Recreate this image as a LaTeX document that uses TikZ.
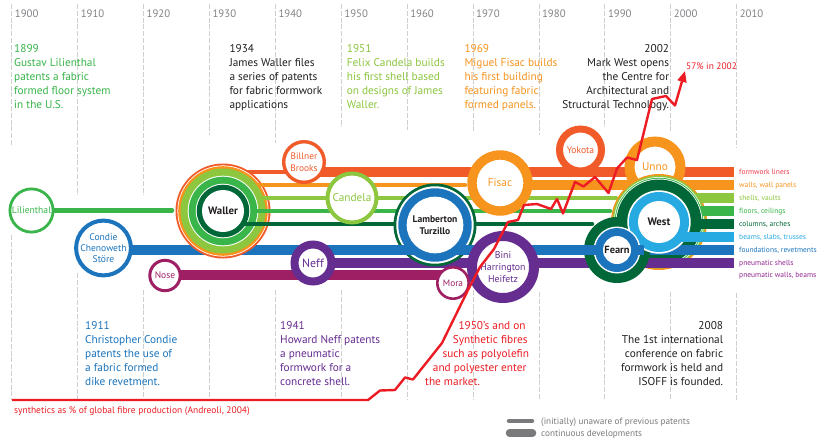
\documentclass[tikz,border=0pt]{standalone}
\usepackage{fontspec}
\setmainfont{PT Sans}
\usetikzlibrary{arrows.meta}
\definecolor{cRO}{HTML}{F15A29}
\definecolor{cOr}{HTML}{F7941D}
\definecolor{cLG}{HTML}{8DC63F}
\definecolor{cGr}{HTML}{39B54A}
\definecolor{cDG}{HTML}{006838}
\definecolor{cLB}{HTML}{27AAE1}
\definecolor{cBl}{HTML}{1C75BC}
\definecolor{cPu}{HTML}{662D91}
\definecolor{cMa}{HTML}{9E1F63}
\definecolor{cRd}{HTML}{ED1C24}
\definecolor{cTx}{HTML}{231F20}
\definecolor{cGrid}{HTML}{CFCFCF}
\definecolor{cYear}{HTML}{808285}
\definecolor{cLeg}{HTML}{7A7A7C}
\definecolor{cPk}{HTML}{EE3D4A}
\definecolor{cPm}{HTML}{92278F}
\newcommand\myfs[2]{\fontsize{#1}{#2}\selectfont}
\newcommand\para[6]{%
  \foreach \pln [count=\pli from 0] in {#6}
    \node[inner sep=0pt,anchor=#4,text=#5,font=\myfs{11.3}{14}] (#1\pli) at (#2,#3+14*\pli) {\pln};}
\begin{document}
\begin{tikzpicture}[x=1pt,y=-1pt,
  thinbar/.style={line width=4.5pt,line cap=round},
  thickbar/.style={line width=9.4pt,line cap=butt},
  gridline/.style={cGrid,line width=0.7pt,dash pattern=on 5pt off 1.8pt},
  yearlbl/.style={anchor=base west,inner sep=0pt,text=cYear,font=\myfs{10.8}{12}},
  ring/.style={circle,fill=white,inner sep=0pt,align=center},
  ctext/.style={inner sep=0pt,align=center},
  catlbl/.style={anchor=base west,inner sep=0pt,font=\myfs{7.5}{9}},
  leglbl/.style={anchor=base west,inner sep=0pt,text=cLeg,font=\myfs{9.2}{10}},
]
\useasboundingbox (0,0) rectangle (819,442);
\fill[white] (0,0) rectangle (819,442);

% ---------- grid and years
\foreach \yr/\ta/\tb in {1900/145/235,1910/195/273,1920/195/290,1930/135/290,1940/143/290,1950/127/290,1960/130/290,1970/133/290,1980/135/292,1990/127/292,2000/133/292,2010/147/293}{
  \pgfmathsetmacro\gx{11.7+(\yr-1900)*6.59}
  \draw[gridline] (\gx,4) -- (\gx,\ta) (\gx,\tb) -- (\gx,400);
  \node[yearlbl] (yr\yr) at (\gx+3,17.2) {\yr};
}

% ---------- texts
\para{ta}{14}{52}{base west}{cGr}{1899,Gustav Lilienthal,patents a fabric,formed floor system,in the U.S.}
\para{tb}{229.3}{52}{base west}{cTx}{1934,James Waller files,a series of patents,for fabric formwork,applications}
\para{tc}{346.7}{52}{base west}{cLG}{1951,Felix Candela builds,his first shell based,on designs of James,Waller.}
\para{td}{464.3}{52}{base west}{cOr}{1969,Miguel Fisac builds,his first building,featuring fabric,formed panels.}
\para{te}{669.3}{52}{base east}{cTx}{2002,Mark West opens,the Centre for,Architectural and,Structural Technology.}
\para{tf}{85}{329}{base west}{cBl}{1911,Christopher Condie,patents the use of,a fabric formed,dike revetment.}
\para{tg}{280}{329}{base west}{cPu}{1941,Howard Neff patents,a pneumatic,formwork for a,concrete shell.}
\para{th}{723.3}{329}{base east}{cTx}{2008,The 1st international,conference on fabric,formwork is held and,ISOFF is founded.}
\foreach \plx/\pln [count=\pli from 0] in {458.3/1950’s and on,452.7/Synthetic fibres,442.3/such as polyolefin,432.7/and polyester enter,425/the market.}
  \node[inner sep=0pt,anchor=base west,text=cRd,font=\myfs{11.3}{14}] (ti\pli) at (\plx,329+14*\pli) {\pln};

% ---------- centres and row ends
\coordinate (pLil) at (31.5,210.5);
\coordinate (pCon) at (103.5,248);
\coordinate (pNos) at (165,275.5);
\coordinate (pW) at (223,211);
\coordinate (pBil) at (304,162);
\coordinate (pCan) at (352,198);
\coordinate (pNef) at (313,263);
\coordinate (pL) at (435,225);
\coordinate (pFis) at (500,183);
\coordinate (pBin) at (503,267);
\coordinate (pMor) at (453,283);
\coordinate (pYok) at (580.5,150);
\coordinate (pUnn) at (655,167);
\coordinate (pWe) at (659,222);
\coordinate (pF) at (617,250);
\coordinate (eRO) at (734,172);
\coordinate (eOr) at (734,185);
\coordinate (eLG) at (734,198);
\coordinate (eGr) at (734,211);
\coordinate (eDG) at (734,224);
\coordinate (eLB) at (734,237);
\coordinate (eBl) at (734,250);
\coordinate (ePu) at (734,263);
\coordinate (eMa) at (734,275);
\coordinate (lilEnd) at (172,210.5);
\coordinate (orEnd) at (465,185);
\coordinate (lgEnd) at (616,198);
\coordinate (grEnd) at (610,211);
\coordinate (dgEnd) at (592,224);

% ---------- bars behind everything
\draw[thinbar,cGr] (pLil) -- (lilEnd);
\draw[thickbar,cBl] (pCon |- eBl) -- (eBl);
\draw[thickbar,cPu] (pNef |- ePu) -- (ePu);
\draw[thickbar,cMa] (pNos |- eMa) -- (pMor |- eMa);
\draw[thinbar,cRO] (pW |- eRO) -- (pBil |- eRO);
\draw[thickbar,cRO] (pBil |- eRO) -- (eRO);
\draw[thickbar,cOr] (pFis |- eOr) -- (eOr);

% ---------- Waller
\fill[cRO] (pW) circle[radius=47.5pt];
\fill[white] (pW) circle[radius=45.6pt];
\fill[cOr] (pW) circle[radius=44.8pt];
\draw[thinbar,cOr] (pW |- eOr) -- (orEnd);
\fill[cLG] (pW) circle[radius=42.5pt];
\draw[thinbar,cLG] (pW |- eLG) -- (lgEnd);
\fill[white] (pW) circle[radius=35.3pt];
\fill[cGr] (pW) circle[radius=34.3pt];
\draw[thinbar,cGr] (pW |- eGr) -- (grEnd);
\fill[white] (pW) circle[radius=27.3pt];
\fill[cDG] (pW) circle[radius=26.3pt];
\draw[thinbar,cDG] (pW |- eDG) -- (dgEnd);
\fill[white] (pW) circle[radius=21pt];
\node[ctext,font=\bfseries\myfs{10.8}{12},text=cTx] (waller) at (pW) {Waller};

% ---------- simple rings
\node[ring,draw=cGr,line width=2.8pt,minimum size=43.2pt,text=cGr,font=\myfs{9.6}{11}] (lil) at (pLil) {Lilienthal};
\node[ring,draw=cBl,line width=4pt,minimum size=53.4pt,text=cBl,font=\myfs{9.6}{11.3}] (condie) at (pCon) {Condie\\Chenoweth\\Störe};
\node[ring,draw=cMa,line width=3pt,minimum size=30.4pt,text=cMa,font=\myfs{9.5}{11}] (nose) at (pNos) {Nose};
\node[ring,draw=cRO,line width=3.4pt,minimum size=40.6pt,text=cRO,font=\myfs{9.4}{12.3}] (billner) at (pBil) {Billner\\Brooks};
\node[ring,draw=cLG,line width=4pt,minimum size=49pt,text=cLG,font=\myfs{11.3}{12}] (candela) at (pCan) {Candela};
\node[ring,draw=cPu,line width=8pt,minimum size=37pt,text=cPu,font=\myfs{11.9}{12}] (neff) at (pNef) {Neff};

% ---------- Lamberton Turzillo
\fill[cDG] (pL) circle[radius=41.5pt];
\fill[white] (pL) circle[radius=38.7pt];
\draw[thickbar,cBl] (pL |- eBl) ++(-42,0) -- ++(84,0);
\fill[cBl] (pL) circle[radius=36.7pt];
\fill[white] (pL) circle[radius=28.3pt];
\node[ctext,font=\bfseries\myfs{9.6}{11.7},text=cTx] (lamberton) at (pL) {Lamberton\\Turzillo};

\node[ring,draw=cOr,line width=9.4pt,minimum size=56pt,text=cOr,font=\myfs{11.2}{12}] (fisac) at (pFis) {Fisac};
\node[ring,draw=cPu,line width=10pt,minimum size=62pt,text=cPu,font=\myfs{9.8}{11.7}] (bini) at (pBin) {Bini\\Harrington\\Heifetz};
\node[ring,draw=cMa,line width=2.6pt,minimum size=31.4pt,text=cMa,font=\myfs{9.3}{11}] (mora) at (pMor) {Mora};
\node[ring,draw=cRO,line width=7pt,minimum size=42pt,text=cRO,font=\myfs{9.6}{11}] (yokota) at (pYok) {Yokota};
\node[ring,draw=cOr,line width=10pt,minimum size=51pt,text=cOr,font=\myfs{11.3}{12}] (unno) at (pUnn) {Unno};

% ---------- West and Fearn
\fill[cOr] (pWe) circle[radius=48pt];
\fill[cLG] (pWe) circle[radius=46.5pt];
\draw[thickbar,cLG] (pWe |- eLG) -- (eLG);
\fill[white] (pWe) circle[radius=45pt];
\fill[cGr] (pWe) circle[radius=44.3pt];
\draw[thickbar,cGr] (pWe |- eGr) -- (eGr);
\fill[white] (pWe) circle[radius=43.3pt];
\fill[cDG] (pWe) circle[radius=42.5pt];
\draw[thickbar,cDG] (pWe |- eDG) -- (eDG);
\draw[thickbar,cBl] (pF |- eBl) -- (eBl);
\draw[thickbar,cPu] (pF |- ePu) -- (ePu);
\fill[cDG] (pF) circle[radius=33pt];
\fill[white] (pWe) circle[radius=31.7pt];
\fill[cLB] (pWe) circle[radius=30pt];
\draw[thickbar,cLB] (pWe |- eLB) -- (eLB);
\fill[white] (pWe) circle[radius=21pt];
\fill[white] (pF) circle[radius=23.5pt];
\fill[cBl] (pF) circle[radius=22pt];
\draw[thickbar,cBl] (pF) ++(-33,0) -- ++(60,0);
\fill[white] (pF) circle[radius=14pt];
\node[ctext,font=\bfseries\myfs{10.9}{12},text=cTx] (west) at (pWe) {West};
\node[ctext,font=\bfseries\myfs{10.4}{12},text=cTx] (fearn) at (pF) {Fearn};

% ---------- category labels
\node[catlbl,text=cPk] (kRO) at (739,174.6) {formwork liners};
\node[catlbl,text=cOr] (kOr) at (739,187.6) {walls, wall panels};
\node[catlbl,text=cLG] (kLG) at (739,200.6) {shells, vaults};
\node[catlbl,text=cGr] (kGr) at (739,213.6) {floors, ceilings};
\node[catlbl,text=cDG] (kDG) at (739,226.6) {columns, arches};
\node[catlbl,text=cLB] (kLB) at (739,239.6) {beams, slabs, trusses};
\node[catlbl,text=cBl] (kBl) at (739,252.6) {foundations, revetments};
\node[catlbl,text=cPm] (kPu) at (739,265.6) {pneumatic shells};
\node[catlbl,text=cPm] (kMa) at (739,277.8) {pneumatic walls, beams};

% ---------- legend
\coordinate (lgA) at (509,421);
\coordinate (lgB) at (532,421);
\coordinate (lgC) at (509.5,433);
\coordinate (lgD) at (532.5,433);
\draw[cLeg,line width=4.5pt,line cap=round] (lgA) -- (lgB);
\draw[cLeg,line width=7.5pt,line cap=round] (lgC) -- (lgD);
\node[leglbl] (lg1) at (541,424) {(initially) unaware of previous patents};
\node[leglbl] (lg2) at (541,436) {continuous developments};

% ---------- synthetics curve
\coordinate (sStart) at (12,400);
\coordinate (sTip) at (685,71);
\draw[cRd,line width=2.4pt,line join=round,-{Triangle[length=11pt,width=9pt]}]
  (sStart) -- (368,400) -- (380,390.5) -- (395,390) -- (405,377.5) -- (413,379.5)
  -- (442,343) -- (468,290) -- (480,267) -- (494,249) -- (508,222) -- (518,220)
  -- (524,205) -- (537,204) -- (551,209) -- (557,199) -- (563,213.5) -- (575,182)
  -- (583.5,186.5) -- (595,177) -- (608.5,193) -- (617,168.5) -- (627,157.5)
  -- (637,160) -- (652,99) -- (666,96) -- (675,105.5) -- (sTip);
\node[anchor=base west,inner sep=0pt,text=cRd,font=\myfs{9.4}{10}] (pct) at (686,69.5) {57\% in 2002};
\node[anchor=base west,inner sep=0pt,text=cRd,font=\myfs{9.5}{10}] (synlbl) at (14,413.5) {synthetics as \% of global fibre production (Andreoli, 2004)};
\end{tikzpicture}
\end{document}
